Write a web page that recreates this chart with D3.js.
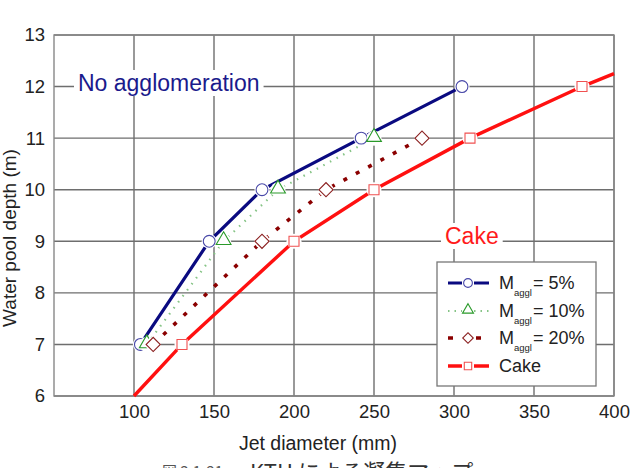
<!DOCTYPE html>
<html>
<head>
<meta charset="utf-8">
<script src="https://cdn.jsdelivr.net/npm/d3@7"></script>
<style>
  body { margin: 0; background: #fff; }
  svg { font-family: "Liberation Sans", Arial, sans-serif; }
</style>
</head>
<body>
<svg width="631" height="468"></svg>
<script>
// values
const xTicks = [100, 150, 200, 250, 300, 350, 400];
const yTicks = [6, 7, 8, 9, 10, 11, 12, 13];

const agg5X = [104, 147, 180, 242, 305];
const agg5Y = [7, 9, 10, 11, 12];
const agg10X = [108, 156, 190, 250];
const agg10Y = [7, 9, 10, 11];
const agg20X = [112, 180, 220, 280];
const agg20Y = [7, 9, 10, 11];
const cakeX = [130, 200, 250, 310, 380];
const cakeY = [7, 9, 10, 11, 12];
// cake line runs past the markers to the plot edges
const cakeLineX = [100, 130, 200, 250, 310, 380, 400];
const cakeLineY = [6, 7, 9, 10, 11, 12, 12.25];

const legendLabels = ['5%', '10%', '20%', 'Cake'];

const svg = d3.select('svg');
const [plotL, plotR, plotT, plotB] = [54, 614, 35, 396];

const x = d3.scaleLinear().domain([50, 400]).range([plotL, plotR]);
const y = d3.scaleLinear().domain([6, 13]).range([plotB, plotT]);

// grid
const grid = svg.append('g');
grid.selectAll('.vg').data(xTicks).enter().append('line')
  .attr('x1', d => x(d)).attr('x2', d => x(d))
  .attr('y1', plotT).attr('y2', plotB)
  .attr('stroke', '#6e6e6e').attr('stroke-width', 1.4);
grid.selectAll('.hg').data(yTicks).enter().append('line')
  .attr('x1', plotL).attr('x2', plotR)
  .attr('y1', d => y(d)).attr('y2', d => y(d))
  .attr('stroke', '#6e6e6e').attr('stroke-width', 1.4);
grid.append('rect')
  .attr('x', plotL).attr('y', plotT)
  .attr('width', plotR - plotL).attr('height', plotB - plotT)
  .attr('fill', 'none').attr('stroke', '#888').attr('stroke-width', 1.4);

// tick labels
const xAxis = d3.axisBottom(x).tickValues(xTicks).tickSize(0).tickPadding(9).tickFormat(d3.format('d'));
const gx = svg.append('g').attr('transform', `translate(0,${plotB})`).call(xAxis);
gx.select('.domain').remove();
gx.selectAll('text').attr('font-size', 18.5).attr('fill', '#222')
  .attr('font-family', '"Liberation Sans", Arial, sans-serif');

const yAxis = d3.axisLeft(y).tickValues(yTicks).tickSize(0).tickPadding(9).tickFormat(d3.format('d'));
const gy = svg.append('g').attr('transform', `translate(${plotL},0)`).call(yAxis);
gy.select('.domain').remove();
gy.selectAll('text').attr('font-size', 18.5).attr('fill', '#222')
  .attr('font-family', '"Liberation Sans", Arial, sans-serif');

// axis titles
svg.append('text').attr('x', 318).attr('y', 450)
  .attr('text-anchor', 'middle').attr('font-size', 19.5).attr('fill', '#222')
  .text('Jet diameter (mm)');
svg.append('text')
  .attr('transform', 'translate(16,238) rotate(-90)')
  .attr('text-anchor', 'middle').attr('font-size', 19).attr('fill', '#222')
  .text('Water pool depth (m)');

// annotations with white boxes hiding the grid
function label(txt, cx, cy, color) {
  const t = svg.append('text').attr('x', cx).attr('y', cy)
    .attr('font-size', 23).attr('fill', color).text(txt);
  const b = t.node().getBBox();
  svg.insert('rect', () => t.node())
    .attr('x', b.x - 4).attr('y', b.y).attr('width', b.width + 8).attr('height', b.height)
    .attr('fill', '#fff');
}
label('No agglomeration', 78, 91, '#1a1a8c');
label('Cake', 445, 244, '#ff1a1a');

const series = [
  {xs: agg5X, ys: agg5Y, lx: agg5X, ly: agg5Y, color: '#0a0a80', width: 3.2, dash: null,
   mark: 'circle', mcolor: '#4848a8'},
  {xs: agg10X, ys: agg10Y, lx: agg10X, ly: agg10Y, color: '#86c486', width: 2.2, dash: '1.5,6',
   mark: 'triangle', mcolor: '#2a9a2a'},
  {xs: agg20X, ys: agg20Y, lx: agg20X, ly: agg20Y, color: '#8b0000', width: 3.6, dash: '4,10',
   mark: 'diamond', mcolor: '#8b2020'},
  {xs: cakeX, ys: cakeY, lx: cakeLineX, ly: cakeLineY, color: '#ff1010', width: 3.4, dash: null,
   mark: 'square', mcolor: '#f05050'}
];

const line = d3.line().x(d => x(d[0])).y(d => y(d[1]));

series.forEach(s => {
  svg.append('path')
    .attr('d', line(s.lx.map((v, i) => [v, s.ly[i]])))
    .attr('fill', 'none').attr('stroke', s.color)
    .attr('stroke-width', s.width)
    .attr('stroke-dasharray', s.dash);
});

function symbolPath(type, scale) {
  if (type === 'circle') return d3.symbol().type(d3.symbolCircle).size(110 * scale)();
  if (type === 'triangle') return d3.symbol().type(d3.symbolTriangle).size(95 * scale)();
  return d3.symbol().type(d3.symbolSquare).size(100 * scale)();
}

function marker(g, type, px, py, color, scale) {
  let tr = `translate(${px},${py})`;
  if (type === 'diamond') tr += ' rotate(45)';
  if (type === 'triangle') tr += ' translate(0,-1)';
  g.append('path')
    .attr('d', symbolPath(type, scale))
    .attr('transform', tr)
    .attr('fill', '#fff').attr('stroke', color).attr('stroke-width', 1.1);
}

series.forEach(s => {
  const g = svg.append('g');
  s.xs.forEach((v, i) => {
    g.append('circle').attr('cx', x(v)).attr('cy', y(s.ys[i])).attr('r', 7.5).attr('fill', '#fff');
    marker(g, s.mark, x(v), y(s.ys[i]), s.mcolor, 1);
  });
});

// legend
const lg = svg.append('g');
lg.append('rect').attr('x', 437).attr('y', 262).attr('width', 159).attr('height', 124)
  .attr('fill', '#fff').attr('stroke', '#777').attr('stroke-width', 1.3);
const rowY = [283, 311, 338, 366];
series.forEach((s, i) => {
  lg.append('line').attr('x1', 448).attr('x2', 489)
    .attr('y1', rowY[i]).attr('y2', rowY[i])
    .attr('stroke', s.color).attr('stroke-width', s.width)
    .attr('stroke-dasharray', s.dash ? (i === 1 ? '1.5,5' : '5,9') : null);
  lg.append('rect').attr('x', 462).attr('y', rowY[i] - 6).attr('width', 12).attr('height', 12).attr('fill', '#fff');
  marker(lg, s.mark, 468, rowY[i], s.mcolor, 0.55);
  if (i < 3) {
    const t = lg.append('text').attr('x', 499).attr('y', rowY[i] + 6)
      .attr('font-size', 18).attr('fill', '#222');
    t.append('tspan').text('M');
    t.append('tspan').attr('font-size', 9.5).attr('dy', 7).text('aggl');
    t.append('tspan').attr('dy', -7).attr('x', 533).text(i === 0 ? '=  ' + legendLabels[i] : '= ' + legendLabels[i]);
  } else {
    lg.append('text').attr('x', 499).attr('y', rowY[i] + 6)
      .attr('font-size', 18).attr('fill', '#222').text(legendLabels[i]);
  }
});

// caption, cut off by the bottom edge
svg.append('text').attr('x', 162).attr('y', 477)
  .attr('font-size', 15).attr('fill', '#555')
  .attr('font-family', '"Noto Sans CJK JP", sans-serif')
  .text('図 3.1-21');
svg.append('text').attr('x', 250).attr('y', 480)
  .attr('font-size', 22).attr('fill', '#333')
  .attr('font-family', '"Noto Sans CJK JP", sans-serif')
  .text('KTH による凝集マップ');
</script>
</body>
</html>
